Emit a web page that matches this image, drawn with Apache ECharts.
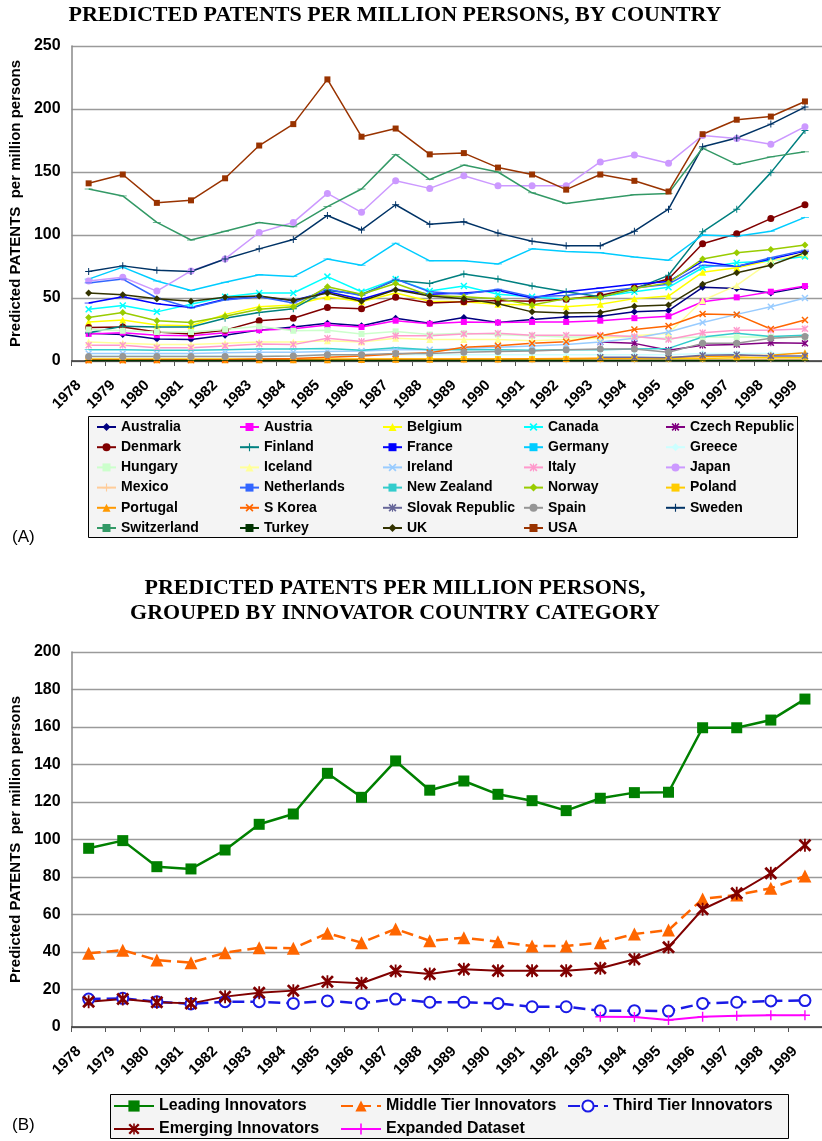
<!DOCTYPE html>
<html>
<head>
<meta charset="utf-8">
<script src="https://cdn.jsdelivr.net/npm/echarts@6/dist/echarts.min.js"></script>
<style>
  html, body { margin: 0; padding: 0; background: #fff; }
  #chart { width: 822px; height: 1141px; }
</style>
</head>
<body>
<div id="chart"></div>
<script>
// Years shared by both panels
const years = ['1978','1979','1980','1981','1982','1983','1984','1985','1986','1987','1988',
               '1989','1990','1991','1992','1993','1994','1995','1996','1997','1998','1999'];

// Panel A: predicted patents per million persons, by country
const countries = ['Australia','Austria','Belgium','Canada','Czech Republic',
                   'Denmark','Finland','France','Germany','Greece',
                   'Hungary','Iceland','Ireland','Italy','Japan',
                   'Mexico','Netherlands','New Zealand','Norway','Poland',
                   'Portugal','S Korea','Slovak Republic','Spain','Sweden',
                   'Switzerland','Turkey','UK','USA'];

const australia   = [22, 21, 17.5, 17, 20.5, 24.5, 27, 30, 28, 34, 30, 34.5, 30.5, 33, 35, 35.5, 39, 40, 58.5, 57.5, 54, 59];
const austria     = [21.5, 22.5, 20.5, 20, 22.5, 24.5, 25.5, 28.5, 27, 32, 29.5, 31, 30.5, 31, 31, 32, 34, 35.5, 47, 50.5, 55, 59.5];
const belgium     = [31, 32.5, 28.5, 28, 37, 43, 44.5, 51, 47, 54, 47.5, 47, 45, 44.5, 43, 45, 49.5, 51.5, 70.5, 74, 80, 84];
const canada      = [41, 44, 39, 45, 51, 54, 54, 67, 55, 65, 55.5, 59.5, 53, 51, 49, 51, 55, 58.5, 74, 78, 79.5, 83];
const czechRep    = [null, null, null, null, null, null, null, null, null, null, null, null, null, null, null, 15, 14, 8.5, 12.5, 13, 14.5, 14];
const denmark     = [26.5, 27, 23, 21.5, 24.5, 32, 34, 42.5, 41.5, 50.5, 46, 47, 48, 47.5, 49, 52, 58, 65, 93, 101, 113, 124];
const finland     = [22.5, 27.5, 27, 27, 34, 38.5, 41.5, 56, 53, 64, 61.5, 69, 65, 59.5, 55, 51, 57, 68, 102.5, 120.5, 149.5, 183];
const france      = [46, 51, 45.5, 42.5, 49, 51, 48, 55, 49, 57, 53, 54, 56, 50, 55, 58, 61, 63, 79, 75, 81, 87];
const germany     = [65, 74.5, 63.5, 56, 62.5, 68.5, 67, 81, 76, 93.5, 79.5, 79.5, 77, 89, 87, 86, 82.5, 80, 100, 99, 103, 114];
const greece      = [4, 4, 4, 4, 4, 4, 4, 4.5, 4.5, 5, 5, 5, 5, 5, 5, 5, 5, 5, 6, 6, 6, 6];
const hungary     = [25, 24, 23, 23, 25, 27.5, 24, 24.5, 21.5, 23.5, 21, 22, 21, 20, 19, 19, 19, 18, 19, 19, 19, 19];
const iceland     = [15, 14, 13, 13, 14, 15, 15, 16, 15, 18, 17, 17, 17, 16, 17, 18, 20, 22, 48, 60, 79, 86];
const ireland     = [6, 6, 6, 6, 6.5, 7, 7, 7.5, 8, 9, 9, 10, 11, 12, 13, 15, 18, 23, 30.5, 37, 43, 50];
const italy       = [12.5, 12.5, 10.5, 10.5, 12, 13.5, 13, 18, 15.5, 20, 20, 21.5, 22, 20.5, 20.5, 20.5, 19.5, 17, 22.5, 24.5, 24.5, 25.5];
const japan       = [63.5, 66.5, 55.5, 71.5, 81, 102, 110, 133, 118, 143, 137, 147, 139, 139, 139, 158, 163.5, 157, 179, 176.5, 172, 186];
const mexico      = [1, 1, 1, 1, 1, 1, 1, 1, 1, 1, 1, 1, 1, 1, 1, 1, 1, 1.2, 1.2, 1.2, 1.3, 1.3];
const netherlands = [62, 65, 50, 42, 48.5, 51, 46, 57, 52, 65, 55, 53, 57, 51, 52, 55, 58, 61, 76, 75, 82, 88];
const newZealand  = [9, 9, 8.5, 8.5, 9, 9.5, 9.5, 10, 8.5, 10.5, 9, 9, 9, 8.5, 9, 9, 9.5, 10, 19, 22, 19.5, 20.5];
const norway      = [34.5, 38.5, 32, 30.5, 35.5, 41, 43, 59, 53, 61.5, 52, 51, 49.5, 44.5, 49.5, 50.5, 57.5, 62, 81, 86, 88.5, 92];
const poland      = [1.5, 1.5, 1.5, 1.5, 1.5, 1.5, 1.5, 1.5, 1.5, 1.5, 1.5, 1.5, 1.5, 1.5, 1.5, 2, 2, 2, 2, 2.5, 2.5, 2.5];
const portugal    = [1, 1, 1, 1, 1, 1, 1, 1, 1.2, 1.3, 1.4, 1.5, 1.6, 1.8, 2, 2.2, 2.5, 2.8, 3.5, 4, 4.5, 6.5];
const sKorea      = [0.5, 0.6, 0.7, 0.8, 1, 1.5, 2, 3, 4, 5.5, 6.6, 10.9, 12.2, 14, 15.3, 20, 25, 27.8, 37.3, 36.8, 25.4, 32.5];
const slovakRep   = [null, null, null, null, null, null, null, null, null, null, null, null, null, null, null, 3, 3, 2.5, 4.5, 5, 4, 4];
const spain       = [3.5, 3.5, 3.5, 3.5, 3.5, 3.5, 4, 5, 5, 6, 6, 7, 7.5, 8, 9, 9.5, 9.5, 7, 14, 14, 18, 19.5];
const sweden      = [71, 75.5, 72, 71, 81, 89, 96.5, 115.5, 104, 124, 108.5, 110.5, 101.5, 95, 91.5, 91.5, 103, 120.5, 170, 177, 188, 201.5];
const switzerland = [136.5, 131, 110, 96, 103, 110, 106.5, 122.5, 136.5, 164, 144, 155.5, 150, 133.5, 125, 128.5, 132, 133, 169, 156, 162, 166];
const turkey      = [0.3, 0.3, 0.3, 0.3, 0.3, 0.3, 0.3, 0.3, 0.3, 0.3, 0.3, 0.3, 0.3, 0.3, 0.3, 0.3, 0.3, 0.3, 0.4, 0.4, 0.4, 0.4];
const uk          = [54, 52.5, 49.5, 47.5, 50.5, 51.5, 48, 54, 47.5, 56.5, 51.5, 49.5, 45.5, 39, 38, 38.5, 43.5, 44.5, 61, 70, 76, 86];
const usa         = [141, 148, 125.5, 127.5, 145, 171, 188, 223.5, 178, 184.5, 164, 165, 153.5, 148, 136, 148, 143, 134.5, 180, 191.5, 194, 206];

const countryValues = [australia, austria, belgium, canada, czechRep,
                       denmark, finland, france, germany, greece,
                       hungary, iceland, ireland, italy, japan,
                       mexico, netherlands, newZealand, norway, poland,
                       portugal, sKorea, slovakRep, spain, sweden,
                       switzerland, turkey, uk, usa];

const yTicksA = [0, 50, 100, 150, 200, 250];

// Panel B: grouped by innovator country category
const groups = ['Leading Innovators', 'Middle Tier Innovators', 'Third Tier Innovators',
                'Emerging Innovators', 'Expanded Dataset'];
const leading   = [95.3, 99.4, 85.5, 84.3, 94.4, 108.1, 113.6, 135.3, 122.5, 141.9, 126.3, 131.2, 124.1, 120.7, 115.4, 122, 125, 125.2, 159.6, 159.6, 163.7, 174.9];
const middle    = [39.3, 41, 35.7, 34.3, 39.6, 42.3, 42, 50, 45, 52.3, 46, 47.6, 45.5, 43.2, 43.2, 45, 49.6, 51.7, 68.3, 70.4, 74, 80.5];
const thirdTier = [14.9, 15.3, 13.5, 12.3, 13.5, 13.5, 12.6, 13.9, 12.6, 14.9, 13.2, 13.2, 12.6, 10.8, 10.8, 8.7, 8.7, 8.5, 12.6, 13.2, 13.9, 14.1];
const emerging  = [13.5, 14.9, 13.2, 12.6, 16.2, 18.3, 19.4, 24.2, 23.3, 29.9, 28.3, 30.8, 30, 30, 30, 31.3, 36.1, 42.5, 62.8, 71.3, 82, 97];
const expanded  = [null, null, null, null, null, null, null, null, null, null, null, null, null, null, null, 5.5, 5.3, 3.7, 5.5, 6, 6.3, 6.3];

const yTicksB = [0, 20, 40, 60, 80, 100, 120, 140, 160, 180, 200];

// ---- styling ----
const SANS = '"Liberation Sans", Arial, sans-serif';
const SERIF = '"Liberation Serif", "Times New Roman", serif';

const MARK = {
  diamond: 'diamond',
  square: 'rect',
  triangle: 'triangle',
  circle: 'circle',
  x: 'path://M0,1.5L1.5,0L10,8.5L8.5,10Z M8.5,0L10,1.5L1.5,10L0,8.5Z',
  star: 'path://M0,1.5L1.5,0L10,8.5L8.5,10Z M8.5,0L10,1.5L1.5,10L0,8.5Z M4.3,0H5.7V10H4.3Z',
  plus: 'path://M4.3,0H5.7V10H4.3Z M0,4.3H10V5.7H0Z',
  dash: 'path://M0,0H10V3H0Z'
};
// marker cycle used for the country lines
const markerCycle = ['diamond', 'square', 'triangle', 'x', 'star', 'circle', 'plus', 'dash', 'dash'];
const countryColors = ['#000080', '#FF00FF', '#FFFF00', '#00FFFF', '#800080',
                       '#800000', '#008080', '#0000FF', '#00CCFF', '#CCFFFF',
                       '#CCFFCC', '#FFFF99', '#99CCFF', '#FF99CC', '#CC99FF',
                       '#FFCC99', '#3366FF', '#33CCCC', '#99CC00', '#FFCC00',
                       '#FF9900', '#FF6600', '#666699', '#969696', '#003366',
                       '#339966', '#003300', '#333300', '#993300'];

function markerSize(kind) {
  if (kind === 'dash') return [8, 2.4];
  if (kind === 'square') return 6;
  return 7;
}

const seriesA = countries.map((name, i) => {
  const kind = markerCycle[i % markerCycle.length];
  return {
    name: name,
    type: 'line',
    xAxisIndex: 0,
    yAxisIndex: 0,
    data: countryValues[i],
    symbol: MARK[kind],
    symbolSize: markerSize(kind),
    symbolKeepAspect: true,
    showAllSymbol: true,
    connectNulls: false,
    color: countryColors[i],
    lineStyle: { width: 1.5, color: countryColors[i] },
    itemStyle: { color: countryColors[i], borderWidth: 0 },
    emphasis: { disabled: true }
  };
});

const seriesB = [
  { name: groups[0], data: leading, color: '#008000', symbol: 'rect', symbolSize: 11,
    lineStyle: { width: 2.5, color: '#008000' } },
  { name: groups[1], data: middle, color: '#FF6600', symbol: 'triangle', symbolSize: 13,
    lineStyle: { width: 2.5, color: '#FF6600', type: [12, 6] } },
  { name: groups[2], data: thirdTier, color: '#1A1AE6', symbol: 'emptyCircle', symbolSize: 11,
    itemStyle: { borderWidth: 1.5 },
    lineStyle: { width: 2.5, color: '#1A1AE6', type: [12, 6] } },
  { name: groups[3], data: emerging, color: '#800000', symbol: MARK.star, symbolSize: 13,
    lineStyle: { width: 2, color: '#800000' } },
  { name: groups[4], data: expanded, color: '#FF00FF', symbol: MARK.plus, symbolSize: 10,
    lineStyle: { width: 2, color: '#FF00FF' } }
].map(s => Object.assign({
  type: 'line', xAxisIndex: 1, yAxisIndex: 1, showAllSymbol: true,
  connectNulls: false, emphasis: { disabled: true }
}, s));

function xAxisFor(gridIndex) {
  return {
    type: 'category',
    gridIndex: gridIndex,
    data: years,
    boundaryGap: true,
    axisLine: { lineStyle: { color: '#333', width: 1.5 } },
    axisTick: { show: true, interval: 0, length: 5, lineStyle: { color: '#555' } },
    axisLabel: {
      interval: 0, rotate: 45, margin: 12,
      fontFamily: SANS, fontWeight: 'bold', fontSize: 15, color: '#000',
      padding: [0, 14, 0, 0]
    },
    splitLine: { show: false }
  };
}

function yAxisFor(gridIndex, ticks) {
  return {
    type: 'value',
    gridIndex: gridIndex,
    min: ticks[0],
    max: ticks[ticks.length - 1],
    interval: ticks[1] - ticks[0],
    name: 'Predicted PATENTS  per million persons',
    nameLocation: 'middle',
    nameRotate: 90,
    nameGap: 48,
    nameTextStyle: { fontFamily: SANS, fontWeight: 'bold', fontSize: 15, color: '#000' },
    axisLine: { show: true, lineStyle: { color: '#888', width: 1.5 } },
    axisTick: { show: false },
    axisLabel: { fontFamily: SANS, fontWeight: 'bold', fontSize: 16, color: '#000', margin: 11 },
    splitLine: { show: true, lineStyle: { color: '#9a9a9a', width: 1.3 } }
  };
}

function column(names, left, top, o) {
  return Object.assign({
    orient: 'vertical',
    left: left,
    top: top,
    padding: 0,
    data: names,
    selectedMode: false
  }, o);
}

// five columns, filled row by row
const legendA = [96, 239, 382, 523, 665].map((left, c) =>
  column(countries.filter((_, i) => i % 5 === c), left, 420, {
    itemWidth: 19, itemHeight: 10, itemGap: 6.2,
    textStyle: { fontFamily: SANS, fontWeight: 'bold', fontSize: 14, lineHeight: 14, color: '#000' }
  })
);
const legendB = [
  [[groups[0], groups[3]], 113],
  [[groups[1], groups[4]], 340],
  [[groups[2]], 567]
].map(([names, left]) =>
  column(names, left, 1098, {
    itemWidth: 40, itemHeight: 14, itemGap: 7,
    textStyle: { fontFamily: SANS, fontWeight: 'bold', fontSize: 16, lineHeight: 16, color: '#000' }
  })
);

const chart = echarts.init(document.getElementById('chart'), null, { renderer: 'canvas' });
chart.setOption({
  animation: false,
  backgroundColor: '#fff',
  grid: [
    { left: 70, right: -7, top: 46, height: 315, containLabel: false },
    { left: 70, right: -7, top: 652, height: 375, containLabel: false }
  ],
  xAxis: [xAxisFor(0), xAxisFor(1)],
  yAxis: [yAxisFor(0, yTicksA), yAxisFor(1, yTicksB)],
  legend: legendA.concat(legendB),
  graphic: [
    { type: 'rect', z: 0, shape: { x: 88.5, y: 416.5, width: 709, height: 121 },
      style: { fill: '#f4f4f4', stroke: '#000', lineWidth: 1 } },
    { type: 'rect', z: 0, shape: { x: 110.5, y: 1094.5, width: 678, height: 44 },
      style: { fill: '#f4f4f4', stroke: '#000', lineWidth: 1 } },
    { type: 'text', x: 395, y: 15, style: { text: 'PREDICTED PATENTS PER MILLION PERSONS, BY COUNTRY',
      font: 'bold 22px ' + SERIF, fill: '#000', align: 'center', verticalAlign: 'middle' } },
    { type: 'text', x: 395, y: 588, style: { text: 'PREDICTED PATENTS PER MILLION PERSONS,',
      font: 'bold 22px ' + SERIF, fill: '#000', align: 'center', verticalAlign: 'middle' } },
    { type: 'text', x: 395, y: 613, style: { text: 'GROUPED BY INNOVATOR COUNTRY CATEGORY',
      font: 'bold 22px ' + SERIF, fill: '#000', align: 'center', verticalAlign: 'middle' } },
    { type: 'text', x: 12, y: 537, style: { text: '(A)', font: '17px ' + SANS, fill: '#000',
      align: 'left', verticalAlign: 'middle' } },
    { type: 'text', x: 12, y: 1125, style: { text: '(B)', font: '17px ' + SANS, fill: '#000',
      align: 'left', verticalAlign: 'middle' } }
  ],
  series: seriesA.concat(seriesB)
});
</script>
</body>
</html>
